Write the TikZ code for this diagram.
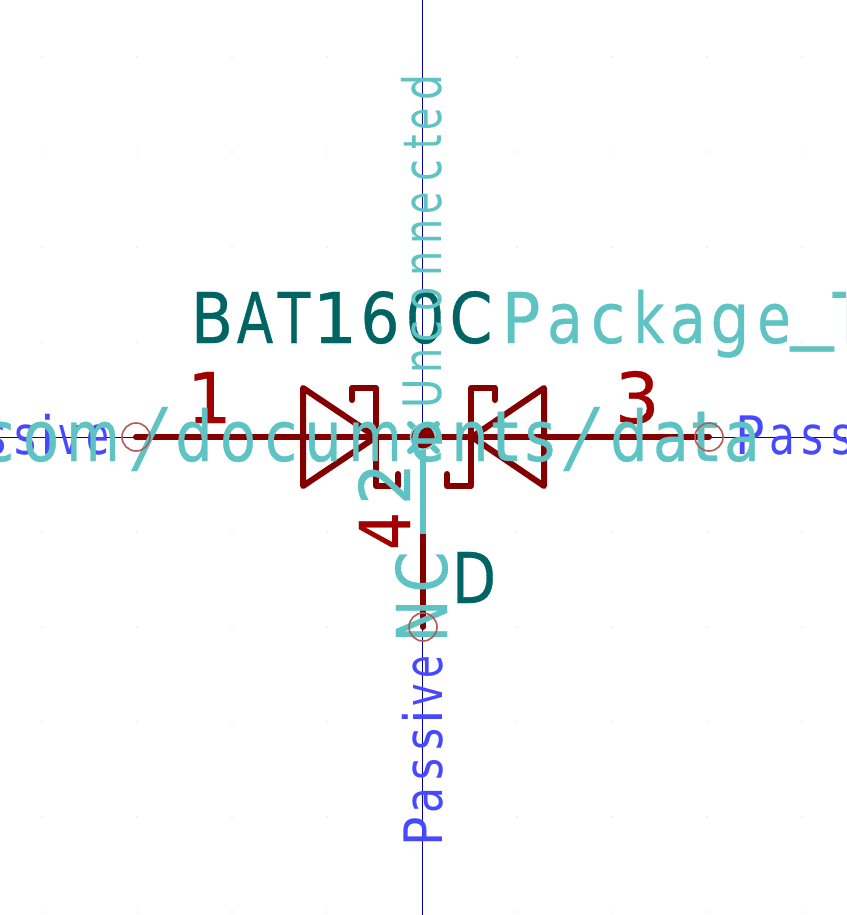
\documentclass[tikz,border=0pt]{standalone}
\usepackage{fontspec}
\usepackage{graphicx}
\setmainfont{DejaVu Sans}
\newfontfamily\strokefont[FakeBold=0.5]{DejaVu Sans}
\newfontfamily\strokefontlight{DejaVu Sans}
\newfontfamily\hairfont{DejaVu Sans ExtraLight}
\definecolor{pinred}{HTML}{840000}
\definecolor{numred}{HTML}{A00000}
\definecolor{liteteal}{HTML}{5FC3C3}
\definecolor{darkteal}{HTML}{006464}
\definecolor{passblue}{HTML}{4848FF}
\definecolor{axisblue}{HTML}{0000A0}
\definecolor{ringred}{HTML}{B25A5A}
\definecolor{griddot}{HTML}{C8C8C8}
\newcommand\gsc{.84}
\newcommand\gl[3][\gsc]{\kern#2pt\makebox[0pt]{\scalebox{#1}[1]{#3}}}
\newcommand\slashg{\raisebox{-3pt}{\scalebox{1.75}[1.12]{\hairfont/}}}
\newcommand\passiveword{\gl[.92]{0}{P}\gl[.8]{32}{a}\gl[.8]{31}{s}\gl[.8]{30}{s}\gl[1]{22}{i}\gl[.72]{22}{v}\gl[.7]{28}{e}}
\tikzset{
  txt/.style={inner sep=0pt,outer sep=0pt,anchor=base west},
  big/.style={txt,font=\strokefont\fontsize{70}{70}\selectfont},
  small/.style={txt,font=\strokefontlight\fontsize{53}{53}\selectfont},
  axisline/.style={draw=axisblue,line width=1pt},
  pinline/.style={draw=pinred,line width=6pt,line cap=round,line join=round},
  pinring/.style={draw=ringred,line width=1.6pt,fill=none},
  nomark/.style={draw=liteteal,line width=6pt,line cap=round}
}
\begin{document}
\begin{tikzpicture}[x=1pt,y=-1pt]
\useasboundingbox (0,0) rectangle (846,915);
\clip (0,0) rectangle (846,915);
\fill[white] (0,0) rectangle (846,915);
% grid
\foreach \gx in {42,137,232,327,422,517,612,707,802}
  \foreach \gy in {57,152,247,342,437,532,627,722,817,912}
    \fill[griddot] (\gx,\gy) circle (0.7pt);
% coordinates
\coordinate (top) at (422.5,0);
\coordinate (bot) at (422.5,915);
\coordinate (lend) at (0,437);
\coordinate (rend) at (846,437);
\coordinate (p1) at (136,437);
\coordinate (p3) at (709,437);
\coordinate (p4) at (423,627);
\coordinate (jn) at (423,437);
\coordinate (tealend) at (423,534);
% axes
\draw[axisline] (top) -- (bot);
\draw[axisline] (lend) -- (p1);
\draw[axisline] (p3) -- (rend);
% pins
\draw[pinline] (p1) -- (p3);
\draw[pinline] (jn) -- (p4);
% diodes
\draw[pinline] (303,388) -- (303,486) -- (376,437) -- cycle;
\draw[pinline] (544,388) -- (544,486) -- (472,437) -- cycle;
\draw[pinline] (352,400) -- (352,388) -- (376,388) -- (376,486) -- (398,486) -- (398,474);
\draw[pinline] (495,400) -- (495,388) -- (471,388) -- (471,486) -- (447,486) -- (447,474);
% no-connect cross and junction
\draw[nomark] (410,424) -- (437,451);
\draw[nomark] (437,424) -- (410,451);
\draw[nomark,line cap=butt] (jn) -- (tealend);
\fill[pinred] (jn) circle (11.5pt);
\draw[draw=liteteal!70!white,line width=1.5pt] (jn) circle (12.5pt);
% red and dark text
\node[big,text=numred] (n1) at (187,423) {1};
\node[big,text=numred] (n3) at (615,423) {3};
\node[big,text=numred,rotate=90,anchor=base] (n4) at (410,531) {\scalebox{.85}[1]{4}};
\node[big,text=darkteal,anchor=base] (refd) at (474,603) {\scalebox{.82}[1]{D}};
\node[big,text=darkteal] (val) at (212,343) {\gl[.88]{0}{B}\gl[.76]{43}{A}\gl[.76]{39}{T}\gl[1]{41}{1}\gl[.88]{45}{6}\gl[.88]{45}{0}\gl[.88]{46}{C}};
% blue text
\node[small,text=passblue,rotate=90] (pb) at (442,832) {\passiveword};
\node[small,text=passblue] (pl) at (-67,454) {\passiveword};
\node[small,text=passblue] (pr) at (750,454) {\passiveword};
% light teal text
\node[big,text=liteteal] (fp) at (521,343) {\gl[.92]{0}{P}\gl{44}{a}\gl[.9]{43}{c}\gl[.76]{41}{k}\gl{39}{a}\gl[.88]{42}{g}\gl[.78]{44}{e}\gl[1.22]{38}{\raisebox{8pt}{\_}}\gl[.76]{37}{T}};
\node[big,text=liteteal] (ds) at (-2,461) {\gl{0}{c}\gl{43}{o}\gl[.78]{52}{m}\gl[1]{57}{\slashg}\gl{44}{d}\gl{44}{o}\gl{43}{c}\gl{42}{u}\gl[.78]{52}{m}\gl{52}{e}\gl{43}{n}\gl[1]{35}{t}\gl{35}{s}\gl[1]{42}{\slashg}\gl{47}{d}\gl{42}{a}\gl[1]{34}{t}\gl{37}{a}};
\node[big,text=liteteal,rotate=90,anchor=base] (n2) at (410,484) {\scalebox{.95}[1]{2}};
\node[big,text=liteteal,rotate=90] (nc) at (447,621) {\gl[.82]{0}{N}\gl[.84]{49}{C}};
\node[small,text=liteteal,rotate=90] (un) at (441,394) {\gl[.76]{0}{U}\gl[.75]{33}{n}\gl[.75]{29}{c}\gl[.75]{33}{o}\gl[.75]{35}{n}\gl[.75]{32}{n}\gl[.68]{29}{e}\gl[.75]{32}{c}\gl[.7]{29}{t}\gl[.68]{23}{e}\gl[.77]{31}{d}};
% pin end rings
\draw[pinring] (p1) circle (14pt);
\draw[pinring] (p3) circle (14pt);
\draw[pinring] (p4) circle (14pt);
\end{tikzpicture}
\end{document}
